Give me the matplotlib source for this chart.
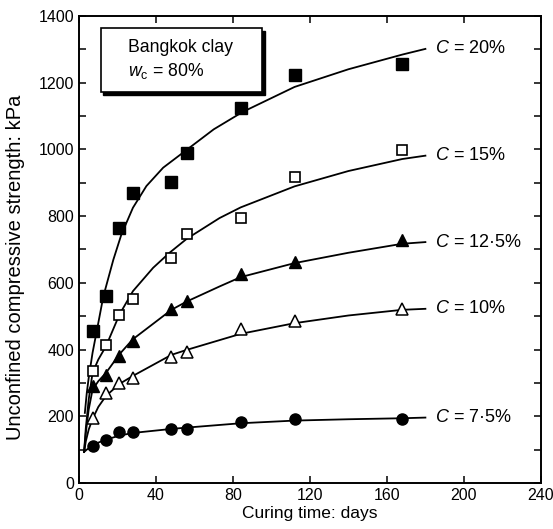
import matplotlib
matplotlib.use("Agg")
import matplotlib.pyplot as plt
from matplotlib.patches import Rectangle

plt.rcParams['font.family'] = ['Liberation Sans', 'DejaVu Sans']
plt.rcParams['mathtext.fontset'] = 'custom'
plt.rcParams['mathtext.rm'] = 'Liberation Sans'
plt.rcParams['mathtext.it'] = 'Liberation Sans:italic'

# ---- data ----
days = [7, 14, 21, 28, 48, 56, 84, 112, 168]
q_20 = [456, 561, 764, 869, 902, 989, 1124, 1222, 1257]
q_15 = [337, 414, 504, 551, 674, 746, 794, 917, 997]
q_125 = [292, 324, 381, 427, 521, 546, 626, 661, 727]
q_10 = [194, 269, 299, 314, 379, 394, 461, 486, 521]
q_75 = [111, 129, 154, 154, 161, 161, 182, 192, 191]

# fitted curves
c20_t = [3, 4, 5, 7, 10, 12.6, 17.8, 22, 28, 35, 43.7, 54, 70, 85, 112, 140, 168, 180]
c20_q = [210, 270, 315, 390, 480, 559, 669, 745, 825, 890, 945, 990, 1060, 1112, 1187, 1240, 1284, 1301]
c15_t = [2.6, 3.5, 5, 7, 10, 14, 21, 28, 38.5, 47, 56, 73, 84, 112, 140, 168, 180]
c15_q = [93, 165, 250, 330, 370, 410, 505, 575, 645, 690, 732, 794, 826, 889, 935, 971, 981]
c125_t = [2.6, 3.5, 5, 7, 10, 14, 21, 28, 48, 56, 73, 84, 112, 140, 168, 180]
c125_q = [93, 150, 220, 280, 305, 330, 386, 431, 519, 544, 589, 617, 659, 690, 717, 722]
c10_t = [2.6, 3.5, 5, 7, 10, 14, 21, 28, 48, 56, 84, 112, 140, 168, 180]
c10_q = [93, 125, 160, 192, 228, 261, 297, 321, 384, 399, 447, 479, 502, 519, 522]
c75_t = [2.6, 4, 7, 10, 14, 21, 28, 48, 56, 84, 112, 140, 168, 180]
c75_q = [93, 100, 112, 121, 130, 142, 150, 162, 166, 179, 187, 191, 194, 196]

labels = ["$C$ = 20%", "$C$ = 15%", "$C$ = 12\u00b75%", "$C$ = 10%", "$C$ = 7\u00b75%"]
xticks = [0, 40, 80, 120, 160, 200, 240]
yticks = [0, 200, 400, 600, 800, 1000, 1200, 1400]

fig = plt.figure(figsize=(5.53, 5.29), dpi=100)
ax = fig.add_axes([0.143, 0.087, 0.835, 0.883])

curves = [(c20_t, c20_q), (c15_t, c15_q), (c125_t, c125_q), (c10_t, c10_q), (c75_t, c75_q)]
for (t, q), lab in zip(curves, labels):
    ax.plot(t, q, color='black', lw=1.3, zorder=2)
    ax.text(t[-1] + 5, q[-1], lab, fontsize=13, va='center', ha='left')

ms = 8
ax.plot(days, q_20, 's', ms=ms, mfc='black', mec='black', zorder=3)
ax.plot(days, q_15, 's', ms=ms - 0.5, mfc='white', mec='black', mew=1.2, zorder=3)
ax.plot(days, q_125, '^', ms=ms + 0.5, mfc='black', mec='black', zorder=3)
ax.plot(days, q_10, '^', ms=ms + 0.5, mfc='white', mec='black', mew=1.1, zorder=3)
ax.plot(days, q_75, 'o', ms=ms, mfc='black', mec='black', zorder=3)

ax.set_xlim(0, 240)
ax.set_ylim(0, 1400)
ax.set_xticks(xticks)
ax.set_yticks(yticks)
ax.set_yticks(range(100, 1400, 200), minor=True)
ax.tick_params(which='both', direction='in', top=True, right=True, labelsize=11.5,
               length=5, width=1.1)
ax.tick_params(which='minor', length=5)
for sp in ax.spines.values():
    sp.set_linewidth(1.4)

ax.set_xlabel("Curing time: days", fontsize=12.5, labelpad=2)
ax.set_ylabel("Unconfined compressive strength: kPa", fontsize=14.5)
ax.yaxis.set_label_coords(-0.117, 0.4625)

# info box with shadow
x0, y0, w, h = 0.047, 0.837, 0.350, 0.137
ax.add_patch(Rectangle((x0 + 0.005, y0 - 0.006), w, h, transform=ax.transAxes,
                       facecolor='black', edgecolor='black', zorder=4))
ax.add_patch(Rectangle((x0, y0), w, h, transform=ax.transAxes,
                       facecolor='white', edgecolor='black', lw=1.2, zorder=5))
ax.text(x0 + 0.06, y0 + 0.095, "Bangkok clay", transform=ax.transAxes,
        fontsize=12.7, va='center', ha='left', zorder=6)
ax.text(x0 + 0.06, y0 + 0.045, r"$w_{\mathrm{c}}$ = 80%", transform=ax.transAxes,
        fontsize=12.7, va='center', ha='left', zorder=6)

fig.savefig("out.png", dpi=100)
